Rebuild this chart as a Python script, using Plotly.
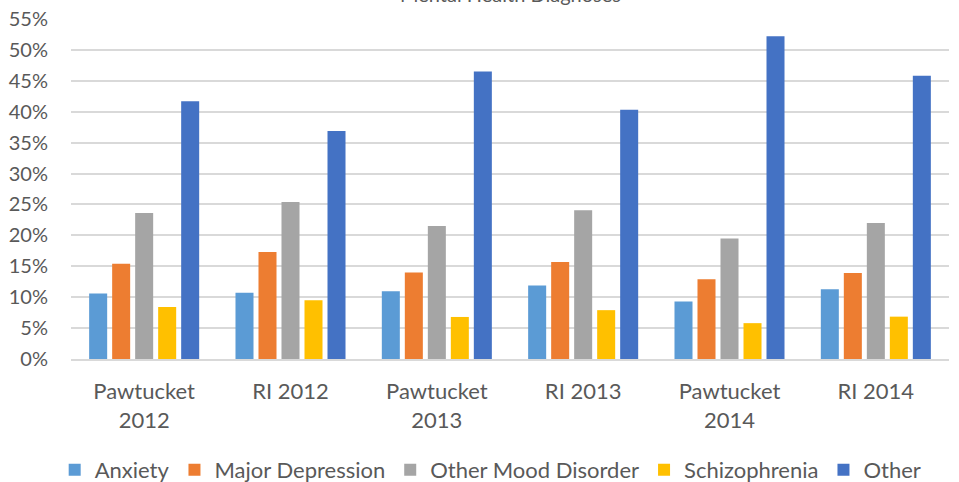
import plotly.graph_objects as go

categories = ["Pawtucket<br>2012", "RI 2012", "Pawtucket<br>2013", "RI 2013", "Pawtucket<br>2014", "RI 2014"]
anxiety = [0.106, 0.107, 0.1095, 0.119, 0.093, 0.113]
major_depression = [0.154, 0.173, 0.140, 0.157, 0.129, 0.139]
other_mood = [0.236, 0.254, 0.215, 0.2405, 0.195, 0.220]
schizophrenia = [0.084, 0.095, 0.068, 0.079, 0.058, 0.0685]
other = [0.417, 0.369, 0.465, 0.403, 0.522, 0.458]

series = [
    ("Anxiety", anxiety, "#5B9BD5"),
    ("Major Depression", major_depression, "#ED7D31"),
    ("Other Mood Disorder", other_mood, "#A5A5A5"),
    ("Schizophrenia", schizophrenia, "#FFC000"),
    ("Other", other, "#4472C4"),
]

fig = go.Figure()
for name, vals, colour in series:
    fig.add_trace(go.Bar(x=categories, y=vals, name=name, marker=dict(color=colour, line=dict(width=0))))

family = "Lato, Open Sans, sans-serif"
grey = "#595959"

fig.update_layout(
    width=959, height=482,
    margin=dict(l=71, r=10, t=19, b=123, autoexpand=False),
    plot_bgcolor="white", paper_bgcolor="white",
    font=dict(family=family, size=21, color=grey),
    barmode="group", bargap=0.214, bargroupgap=0.217,
    yaxis=dict(range=[0, 0.55], dtick=0.05, tickformat=".0%", gridcolor="#D9D9D9", gridwidth=1.5,
               zeroline=False, showline=False, ticks="", ticklabelstandoff=22, automargin=False,
               tickfont=dict(family=family, size=20, color=grey)),
    xaxis=dict(showline=True, linecolor="#D9D9D9", linewidth=1.5, ticks="", ticklabelstandoff=12,
               automargin=False, tickfont=dict(family=family, size=22, color=grey)),
    legend=dict(orientation="h", x=0.478, xanchor="center", yref="container", y=0.025, yanchor="middle",
                font=dict(family=family, size=22, color=grey), itemwidth=30, tracegroupgap=0),
    showlegend=True,
)

# title sits mostly above the visible area, as in the source image
fig.add_annotation(text="Mental Health Diagnoses", xref="paper", yref="paper", x=0.5, y=1.0, yshift=11,
                   xanchor="center", yanchor="bottom", showarrow=False,
                   font=dict(family=family, size=20, color=grey))

# drop the page's default body margin so the figure fills the window
fig.write_html("out.html", config={"displayModeBar": False},
               post_script="document.body.style.margin = '0';")
